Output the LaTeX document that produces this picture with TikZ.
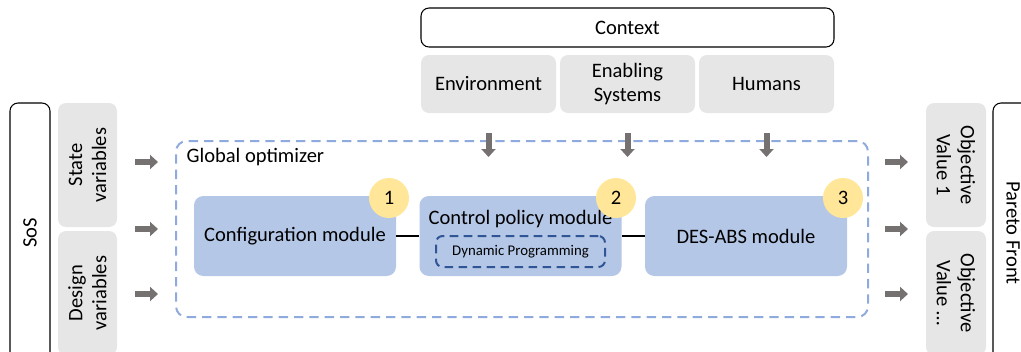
\documentclass[tikz,border=0pt]{standalone}
\usepackage{fontspec}
\setmainfont{Carlito}
\usetikzlibrary{arrows.meta}

\definecolor{boxgray}{HTML}{E7E6E6}
\definecolor{arrowgray}{HTML}{767171}
\definecolor{modblue}{HTML}{B4C7E7}
\definecolor{dashblue}{HTML}{8FAADC}
\definecolor{darkblue}{HTML}{2F5597}
\definecolor{badge}{HTML}{FFE699}

\begin{document}
\begin{tikzpicture}[x=0.75pt,y=-0.75pt,
  every node/.style={font=\fontsize{15.4}{18}\selectfont},
  outline/.style={draw=black,line width=0.8pt,fill=white,rounded corners=6pt},
  graybox/.style={fill=boxgray,rounded corners=6pt,align=center,inner sep=0pt},
  module/.style={fill=modblue,rounded corners=7pt,minimum width=151.5pt,minimum height=60pt,inner sep=0pt},
  numdot/.style={circle,fill=badge,minimum size=30pt,inner sep=0pt},
  bigarrow/.style={draw=arrowgray,line width=4.5pt,-{Triangle[length=6pt,width=10.5pt]}}]
\clip (0,0) rectangle (1021,351);

% context on top
\node[outline,minimum width=309.75pt,minimum height=29.25pt] (context) at (627.5,27.5) {Context};
\node[graybox,minimum width=101.25pt,minimum height=43.5pt] (env) at (488.5,84) {Environment};
\node[graybox,minimum width=101.25pt,minimum height=43.5pt] (enabling) at (627.5,84) {Enabling\\Systems};
\node[graybox,minimum width=101.25pt,minimum height=43.5pt] (humans) at (766.5,84) {Humans};

% inputs
\node[outline,rotate=90,minimum width=195pt,minimum height=30pt] (sos) at (30,233) {SoS};
\node[graybox,rotate=90,minimum width=93pt,minimum height=44.25pt] (state) at (87.5,165) {State\\variables};
\node[graybox,rotate=90,minimum width=93pt,minimum height=44.25pt] (design) at (87.5,293) {Design\\variables};

% outputs
\node[graybox,rotate=-90,minimum width=93pt,minimum height=45pt] (obj1) at (956,165) {Objective\\Value 1};
\node[graybox,rotate=-90,minimum width=93pt,minimum height=45pt] (objn) at (956,293) {Objective\\Value \dots};
\node[outline,rotate=-90,minimum width=195pt,minimum height=30pt] (pareto) at (1013,233) {Pareto Front};

% optimizer
\node[draw=dashblue,line width=1.5pt,dash pattern=on 7pt off 4.5pt,rounded corners=8pt,
  minimum width=519pt,minimum height=132pt] (gopt) at (522,229) {};
\node[anchor=north west,inner sep=0pt] (goptlabel) at ([shift={(8.5pt,-6pt)}]gopt.north west) {Global optimizer};

\node[module] (config) at (295,236) {Configuration module};
\node[module] (control) at (520.5,236) {};
\node[inner sep=0pt] (ctrltext) at (520.5,219) {Control policy module};
\node[draw=darkblue,line width=1.5pt,dash pattern=on 6.5pt off 4pt,rounded corners=5pt,
  minimum width=126.75pt,minimum height=23.25pt,inner sep=0pt,
  font=\fontsize{11.1}{13}\selectfont] (dynprog) at (520.5,251.5) {Dynamic Programming};
\node[module] (desabs) at (746,236) {DES-ABS module};

\node[numdot] (n1) at (389,198) {1};
\node[numdot] (n2) at (616,198) {2};
\node[numdot] (n3) at (843,198) {3};

\draw[line width=1.5pt] (config.east) -- (control.west);
\draw[line width=1.5pt] (control.east) -- (desabs.west);

% arrows
\foreach \y in {162,229,294} {
  \draw[bigarrow] (135,\y) -- (158,\y);
  \draw[bigarrow] (885,\y) -- (908,\y);
}
\foreach \x in {488.5,627.5,766.5}
  \draw[bigarrow] (\x,133) -- (\x,157);
\end{tikzpicture}
\end{document}
